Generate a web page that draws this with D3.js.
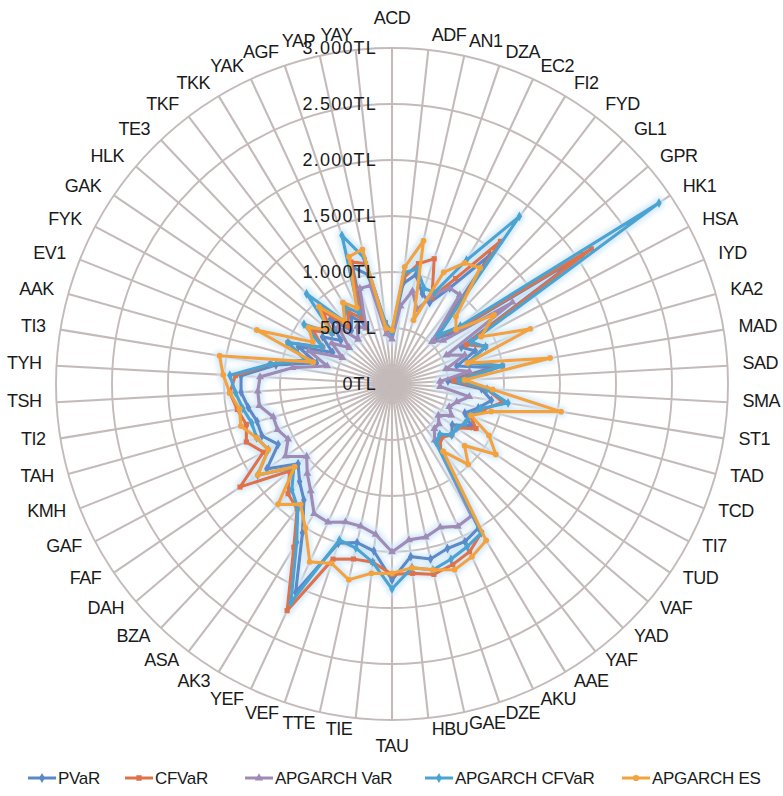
<!DOCTYPE html>
<html><head><meta charset="utf-8">
<script src="https://cdn.jsdelivr.net/npm/d3@7"></script>
<style>body{margin:0;background:#fff} svg{display:block}</style>
</head><body><svg id="c" width="783" height="796"></svg>
<script>
const categories = ["ACD","ADF","AN1","DZA","EC2","FI2","FYD","GL1","GPR","HK1","HSA","IYD","KA2","MAD","SAD","SMA","ST1","TAD","TCD","TI7","TUD","VAF","YAD","YAF","AAE","AKU","DZE","GAE","HBU","TAU","TIE","TTE","VEF","YEF","AK3","ASA","BZA","DAH","FAF","GAF","KMH","TAH","TI2","TSH","TYH","TI3","AAK","EV1","FYK","GAK","HLK","TE3","TKF","TKK","YAK","AGF","YAP","YAY"];
const pVaR =    [450,900,1000,850,800,1000,1450,550,700,2050,700,800,600,900,500,800,900,800,700,800,650,700,650,650,1500,1550,1550,1600,1550,1750,1500,1450,1500,2050,1550,1300,1200,1100,1350,1150,1250,1250,1300,1350,1350,1050,700,900,600,750,600,800,600,700,600,1100,1000,500];
const cfVaR =   [470,950,1100,1180,850,1100,1600,600,750,2150,750,900,700,1000,550,850,1000,850,750,850,700,700,650,700,1550,1650,1700,1740,1700,1700,1600,1600,1650,2230,1700,1400,1350,1200,1640,1300,1400,1350,1400,1450,1400,1100,800,1000,700,850,700,900,650,750,650,1150,1100,550];
const apVaR =   [400,700,850,700,880,1000,1000,520,600,1300,550,700,500,700,430,430,700,600,550,600,500,550,550,630,1375,1400,1350,1400,1400,1500,1350,1300,1300,1360,1350,1200,1100,1000,1150,1050,1100,1100,1200,1200,1180,900,600,800,500,650,500,700,500,600,550,900,900,450];
const apCFVaR = [460,1000,1050,900,900,1290,1880,600,800,2880,800,900,700,1000,600,850,1050,820,750,740,700,700,620,650,1550,1600,1650,1700,1650,1830,1600,1500,1470,2150,1650,1390,1300,1150,1450,1250,1300,1300,1350,1400,1450,1100,800,1000,700,950,700,1110,700,800,700,1400,1150,550];
const apES =    [480,1050,1310,600,1100,1260,1300,830,750,1100,900,1330,700,1430,650,900,1530,920,760,980,1120,850,990,755,1630,1700,1750,1700,1650,1690,1700,1790,1690,1750,1500,1350,1480,1140,1450,1250,1300,1400,1380,1450,1510,1560,730,1300,800,900,750,950,700,850,750,1200,1230,500];
const seriesNames = ["PVaR","CFVaR","APGARCH VaR","APGARCH CFVaR","APGARCH ES"];
const seriesColors = ["#5b89c7","#df7249","#a08ab6","#4aa4d3","#f3a33a"];
const tickValues = [0,500,1000,1500,2000,2500,3000];
const tickLabels = ["0TL","500TL","1.000TL","1.500TL","2.000TL","2.500TL","3.000TL"];

const seriesData = [pVaR, cfVaR, apVaR, apCFVaR, apES];
const symbols = [d3.symbolDiamond, d3.symbolSquare, d3.symbolTriangle, d3.symbolDiamond, d3.symbolCircle];

const cx = 392, cy = 384, R = 336;
const svg = d3.select('#c');
const defs = svg.append('defs');
const f = defs.append('filter').attr('id','glow').attr('x','-20%').attr('y','-20%').attr('width','140%').attr('height','140%');
f.append('feMorphology').attr('in','SourceAlpha').attr('operator','dilate').attr('radius',2).attr('result','d');
f.append('feGaussianBlur').attr('in','d').attr('stdDeviation',2.5).attr('result','b');
f.append('feFlood').attr('flood-color','#cfe7f7').attr('flood-opacity',0.9).attr('result','c');
f.append('feComposite').attr('in','c').attr('in2','b').attr('operator','in').attr('result','g');
const m = f.append('feMerge');
m.append('feMergeNode').attr('in','g');
m.append('feMergeNode').attr('in','SourceGraphic');

const r = d3.scaleLinear().domain([0,3000]).range([0,R]);
const n = categories.length;
const ang = d3.scaleLinear().domain([0,n]).range([0,2*Math.PI]);
const g = svg.append('g').attr('transform',`translate(${cx},${cy})`);

g.selectAll('circle.grid').data(tickValues.filter(v=>v>0)).join('circle')
  .attr('class','grid').attr('r',d=>r(d)).attr('fill','none')
  .attr('stroke','#c4baba').attr('stroke-width',1.9);
g.selectAll('line.spoke').data(categories).join('line').attr('class','spoke')
  .attr('x1',0).attr('y1',0)
  .attr('x2',(d,i)=>R*Math.sin(ang(i))).attr('y2',(d,i)=>-R*Math.cos(ang(i)))
  .attr('stroke','#c4baba').attr('stroke-width',2.1);

const lg = g.append('g').attr('filter','url(#glow)');
seriesData.forEach((vals,s)=>{
  const line = d3.lineRadial().angle((d,i)=>ang(i)).radius(d=>r(d)).curve(d3.curveLinearClosed);
  const sg = lg.append('g');
  sg.append('path').attr('d',line(vals)).attr('fill','none')
    .attr('stroke',seriesColors[s]).attr('stroke-width',3.2).attr('stroke-linejoin','round');
  sg.selectAll('path.mk').data(vals).join('path').attr('class','mk')
    .attr('d',d3.symbol().type(symbols[s]).size(28))
    .attr('transform',(d,i)=>`translate(${r(d)*Math.sin(ang(i))},${-r(d)*Math.cos(ang(i))})`)
    .attr('fill',seriesColors[s]);
});

g.selectAll('text.tick').data(tickValues).join('text').attr('class','tick')
  .attr('x',-15).attr('y',d=>-r(d)).attr('dy','0.35em')
  .attr('text-anchor','end').attr('font-family','Liberation Sans, Arial, sans-serif')
  .attr('font-size',18).attr('fill','#1a1a1a').attr('letter-spacing','1.2')
  .text((d,i)=>tickLabels[i]);

g.selectAll('text.cat').data(categories).join('text').attr('class','cat')
  .each(function(d,i){
    const a = ang(i), s = Math.sin(a), c = Math.cos(a);
    const mid = Math.abs(s) < 0.08;
    const x = (R+13)*s + (mid ? 0 : (s>0 ? 2 : -2));
    const y = -(R+13)*c - 2 - (mid ? c*15 : 0);
    d3.select(this).attr('x',x).attr('y',y).attr('dy','0.35em')
      .attr('text-anchor', mid ? 'middle' : (s>0?'start':'end'));
  })
  .attr('font-family','Liberation Sans, Arial, sans-serif').attr('font-size',18)
  .attr('fill','#1a1a1a').attr('letter-spacing','-0.5').text(d=>d);

const legendX = [28, 125, 245, 425, 622];
const leg = svg.append('g').attr('transform','translate(0,778)');
seriesNames.forEach((nm,s)=>{
  const it = leg.append('g').attr('transform',`translate(${legendX[s]},0)`);
  it.append('line').attr('x1',0).attr('x2',28).attr('y1',0).attr('y2',0)
    .attr('stroke',seriesColors[s]).attr('stroke-width',3);
  it.append('path').attr('d',d3.symbol().type(symbols[s]).size(30)).attr('transform','translate(14,0)').attr('fill',seriesColors[s]);
  it.append('text').attr('x',30).attr('dy','0.35em').attr('font-family','Liberation Sans, Arial, sans-serif')
    .attr('font-size',17).attr('fill','#1a1a1a').attr('letter-spacing','-0.3').text(nm);
});
</script></body></html>
